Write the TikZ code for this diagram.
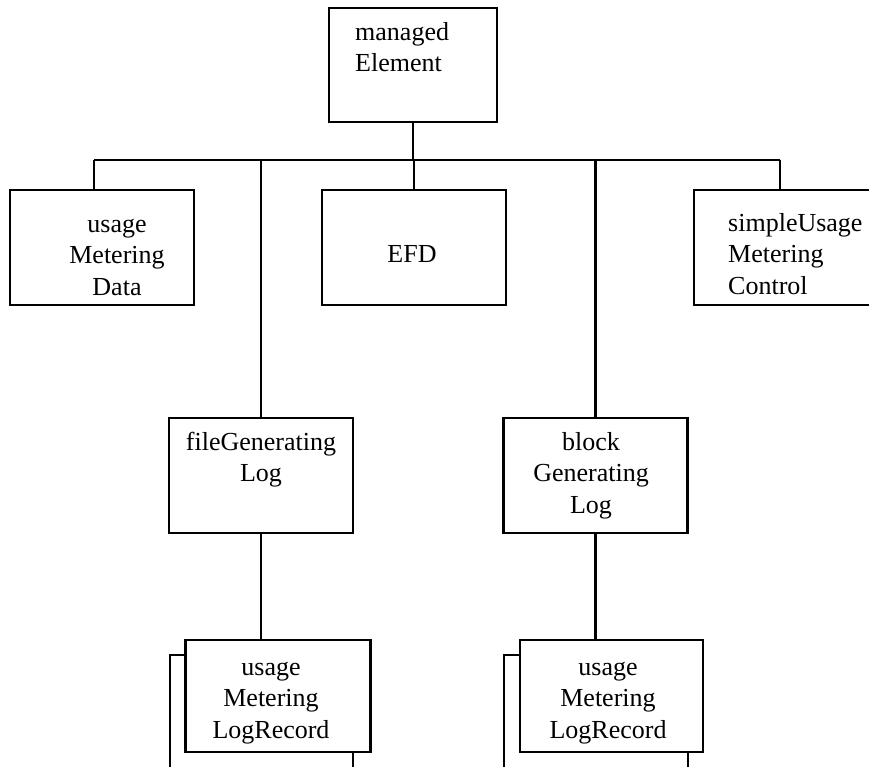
\documentclass[tikz,border=0pt]{standalone}
\usepackage{fontspec}
\setmainfont{Liberation Serif}
\usetikzlibrary{positioning}

\tikzset{
  box/.style={draw, line width=2.4pt, fill=white, inner sep=0pt,
    minimum width=184pt, minimum height=115pt},
  wire/.style={line width=2.2pt},
  txt/.style={inner sep=0pt, anchor=north, align=center},
  ltxt/.style={inner sep=0pt, anchor=north west, align=left}
}

\begin{document}
\begin{tikzpicture}[x=1pt, y=-1pt, font=\fontsize{26}{31.5}\selectfont]

\useasboundingbox (0,0) rectangle (869,767);
\clip (0,0) rectangle (869,767);

% Boxes
\node[box, minimum width=168pt, minimum height=114pt] (mgd) at (413,65) {};
\node[box] (umd)  at (102,247.5) {};
\node[box] (efd)  at (414,247.5) {};
\node[box] (sumc) at (786,247.5) {};
\node[box] (fgl)  at (261,475.5) {};
\node[box] (bgl)  at (595.5,475.5) {};

% stacked log records
\node[box, minimum width=183pt] (lr1b) at (261.5,712.5) {};
\node[box, minimum width=185pt, minimum height=112pt] (lr1) at (278,696) {};
\node[box, minimum width=184pt] (lr2b) at (596,712.5) {};
\node[box, minimum width=183pt, minimum height=112pt] (lr2) at (611.5,696) {};

% Texts
\node[ltxt] (mgdT)  at (355,18)  {\strut managed\\Element};
\node[txt]  (umdT)  at (117,210) {\strut usage\\Metering\\Data};
\node[txt]  (efdT)  at (412,240) {\strut EFD};
\node[ltxt] (sumcT) at (728,209) {\strut simpleUsage\\Metering\\Control};
\node[txt]  (fglT)  at (261,428) {\strut fileGenerating\\Log};
\node[txt]  (bglT)  at (591,428) {\strut block\\Generating\\Log};
\node[txt]  (lr1T)  at (271,653) {\strut usage\\Metering\\LogRecord};
\node[txt]  (lr2T)  at (608,653) {\strut usage\\Metering\\LogRecord};

% Connectors
\coordinate (busL) at (94,160);
\coordinate (busR) at (780,160);
\draw[wire] (busL) -- (busR);
\draw[wire] (mgd.south) -- (mgd.south |- busL);
\draw[wire] (busL) -- (busL |- umd.north);
\draw[wire] (fgl.north |- busL) -- (fgl.north);
\draw[wire] (efd.north |- busL) -- (efd.north);
\draw[wire] (bgl.north |- busL) -- (bgl.north);
\draw[wire] (busR) -- (busR |- sumc.north);
\draw[wire] (fgl.south) -- (fgl.south |- lr1.north);
\draw[wire] (bgl.south) -- (bgl.south |- lr2.north);

\end{tikzpicture}
\end{document}
